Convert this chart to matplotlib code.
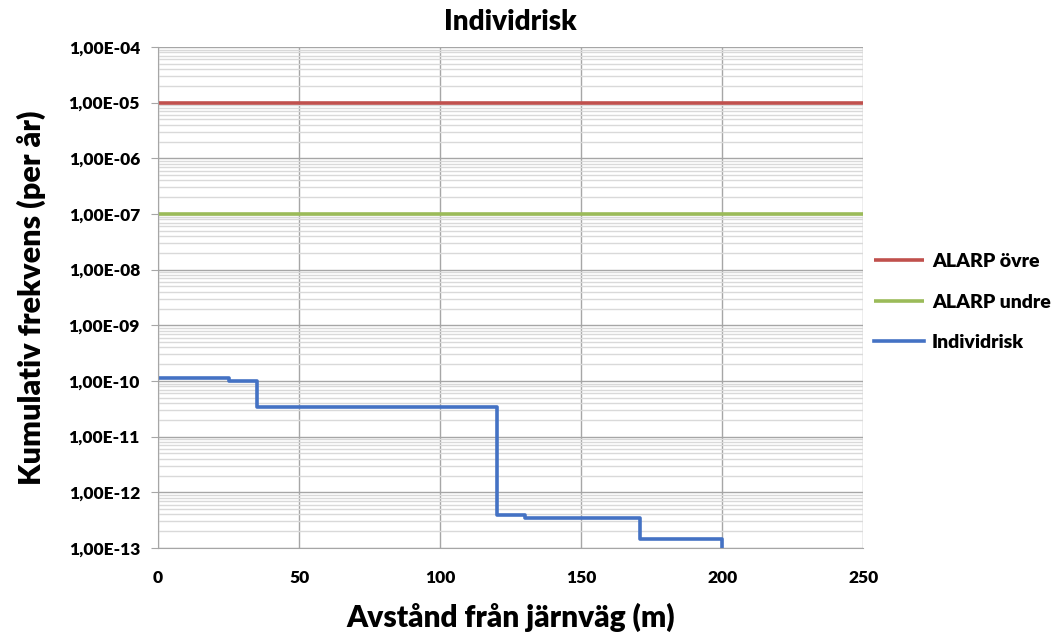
import numpy as np
import matplotlib
matplotlib.use("Agg")
import matplotlib.pyplot as plt
from matplotlib.ticker import FuncFormatter, LogLocator, FixedLocator

plt.rcParams['font.family'] = ['Lato', 'DejaVu Sans']
W = "heavy"

# Data
avstand = [0, 25, 35, 120, 130, 171, 200]
individrisk = [1.15e-10, 9.8e-11, 3.46e-11, 3.85e-13, 3.4e-13, 1.45e-13, 1e-14]
alarp_x = [0, 250]
alarp_ovre = [1e-5, 1e-5]
alarp_undre = [1e-7, 1e-7]

fig = plt.figure(figsize=(10.59, 6.35), dpi=100)
ax = fig.add_axes([0.1492, 0.137, 0.666, 0.789])

ax.plot(alarp_x, alarp_ovre, color="#C0504D", lw=2.6, label="ALARP övre", solid_capstyle="butt")
ax.plot(alarp_x, alarp_undre, color="#9BBB59", lw=2.6, label="ALARP undre", solid_capstyle="butt")
ax.plot(avstand, individrisk, color="#4472C4", lw=2.6, drawstyle="steps-post", label="Individrisk")

ax.set_yscale("log")
ax.set_ylim(1e-13, 1e-4)
ax.set_xlim(0, 250)
ax.set_xticks([0, 50, 100, 150, 200, 250])
ax.yaxis.set_major_locator(FixedLocator([10.0**k for k in range(-13, -3)]))
ax.yaxis.set_minor_locator(LogLocator(base=10, subs=np.arange(2, 10), numticks=100))
ax.yaxis.set_major_formatter(FuncFormatter(lambda v, p: ("%.2E" % v).replace(".", ",")))
ax.yaxis.set_minor_formatter(FuncFormatter(lambda v, p: ""))

ax.grid(which="major", axis="both", color="#A6A6A6", lw=1.0)
ax.grid(which="minor", axis="y", color="#D9D9D9", lw=1.0)
ax.set_axisbelow(True)

for s in ["top", "right"]:
    ax.spines[s].set_visible(False)
for s in ["left", "bottom"]:
    ax.spines[s].set_color("#A6A6A6")

ax.tick_params(axis="y", which="major", length=5, color="#A6A6A6", labelsize=12.5, pad=8)
ax.tick_params(axis="y", which="minor", length=0)
ax.tick_params(axis="x", which="major", length=0, labelsize=12.5, pad=16)
for lbl in ax.get_xticklabels() + ax.get_yticklabels():
    lbl.set_fontweight(W)

ax.set_title("Individrisk", fontsize=20, fontweight=W, pad=12)
ax.set_xlabel("Avstånd från järnväg (m)", fontsize=21.5, fontweight=W, labelpad=12)
ax.set_ylabel("Kumulativ frekvens (per år)", fontsize=22, fontweight=W, labelpad=16)

ax.legend(loc="center left", bbox_to_anchor=(0.99, 0.491), frameon=False,
          prop={"weight": W, "size": 14}, handlelength=2.6, handletextpad=0.4,
          labelspacing=1.2)

fig.savefig("out.png", dpi=100)
